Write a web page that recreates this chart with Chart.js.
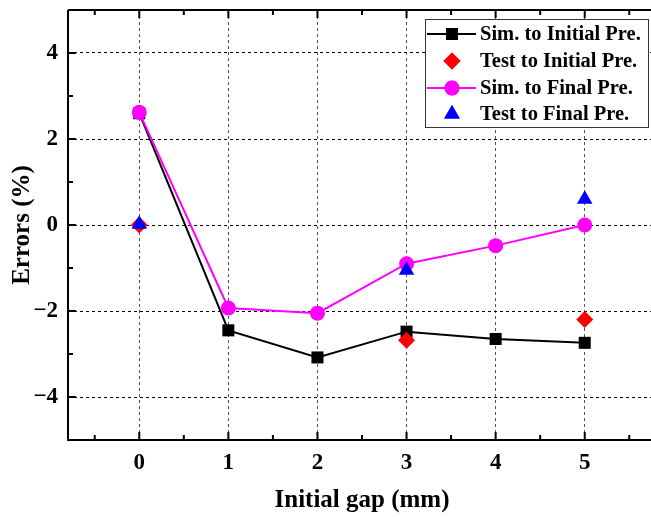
<!DOCTYPE html>
<html>
<head>
<meta charset="utf-8">
<script src="https://cdn.jsdelivr.net/npm/chart.js@4.4.1/dist/chart.umd.min.js"></script>
<style>
  html, body { margin: 0; padding: 0; background: #fff; overflow: hidden; }
</style>
</head>
<body>
<canvas id="myChart" width="665" height="517"></canvas>
<script>
// data
const gaps = [0, 1, 2, 3, 4, 5];
const simInitial = [2.6, -2.45, -3.08, -2.48, -2.65, -2.74];
const testInitialGaps = [0, 3, 5];
const testInitial = [0, -2.68, -2.2];
const simFinal = [2.62, -1.93, -2.05, -0.9, -0.48, 0];
const testFinalGaps = [0, 3, 5];
const testFinal = [0.02, -1.05, 0.6];
const yTicks = [-4, -2, 0, 2, 4];

const FONT = "'Liberation Serif', 'Times New Roman', serif";

function pts(xs, ys) {
  return xs.map((x, i) => ({ x: x, y: ys[i] }));
}

const data = {
  datasets: [
    {
      label: "Sim. to Initial Pre.",
      data: pts(gaps, simInitial),
      borderColor: "#000000",
      backgroundColor: "#000000",
      borderWidth: 2,
      pointStyle: "rect",
      pointRadius: 8.5,
      pointBorderWidth: 0,
      showLine: true,
      order: 3,
    },
    {
      label: "Test to Initial Pre.",
      data: pts(testInitialGaps, testInitial),
      borderColor: "#ff0000",
      backgroundColor: "#ff0000",
      pointStyle: "rectRot",
      pointRadius: 8.5,
      pointBorderWidth: 0,
      showLine: false,
      order: 2,
    },
    {
      label: "Sim. to Final Pre.",
      data: pts(gaps, simFinal),
      borderColor: "#ff00ff",
      backgroundColor: "#ff00ff",
      borderWidth: 2,
      pointStyle: "circle",
      pointRadius: 7.5,
      pointBorderWidth: 0,
      showLine: true,
      order: 1,
    },
    {
      label: "Test to Final Pre.",
      data: pts(testFinalGaps, testFinal),
      borderColor: "#0000ff",
      backgroundColor: "#0000ff",
      pointStyle: "triangle",
      pointRadius: 9,
      pointBorderWidth: 0,
      showLine: false,
      order: 0,
    },
  ],
};

// frame, inward ticks and legend box
const framePlugin = {
  id: "frame",
  afterDatasetsDraw(chart) {
    const ctx = chart.ctx;
    const a = chart.chartArea;
    const xs = chart.scales.x, ys = chart.scales.y;
    ctx.save();
    ctx.strokeStyle = "#000";
    ctx.lineWidth = 2;
    ctx.beginPath();
    ctx.moveTo(a.left, a.top);
    ctx.lineTo(a.right, a.top);
    ctx.moveTo(a.left, a.top);
    ctx.lineTo(a.left, a.bottom);
    ctx.lineTo(a.right, a.bottom);
    ctx.stroke();
    // x ticks
    for (let v = -0.5; v <= 5.5; v += 0.5) {
      const px = xs.getPixelForValue(v);
      const len = Number.isInteger(v) ? 8 : 5;
      ctx.beginPath();
      ctx.moveTo(px, a.bottom);
      ctx.lineTo(px, a.bottom - len);
      ctx.moveTo(px, a.top);
      ctx.lineTo(px, a.top + len);
      ctx.stroke();
    }
    // y ticks
    for (let v = -4; v <= 4; v += 1) {
      const py = ys.getPixelForValue(v);
      const len = v % 2 === 0 ? 8 : 5;
      ctx.beginPath();
      ctx.moveTo(a.left, py);
      ctx.lineTo(a.left + len, py);
      ctx.stroke();
    }

    // legend
    const bx = 425, by = 19, bw = 223, bh = 108;
    ctx.fillStyle = "#fff";
    ctx.fillRect(bx, by, bw, bh);
    ctx.lineWidth = 1;
    ctx.strokeStyle = "#333";
    ctx.strokeRect(bx + 0.5, by + 0.5, bw, bh);
    const rows = [34, 61, 88, 114];
    ctx.font = "bold 20.5px " + FONT;
    ctx.textBaseline = "middle";
    chart.data.datasets.forEach((ds, i) => {
      const y = rows[i];
      if (ds.showLine) {
        ctx.strokeStyle = ds.borderColor;
        ctx.lineWidth = 2;
        ctx.beginPath();
        ctx.moveTo(427, y);
        ctx.lineTo(476, y);
        ctx.stroke();
      }
      ctx.fillStyle = ds.backgroundColor;
      Chart.helpers.drawPoint(ctx, {
        pointStyle: ds.pointStyle,
        radius: ds.pointRadius,
        borderWidth: 0,
        rotation: 0,
      }, 452, y);
      ctx.fill();
      ctx.fillStyle = "#000";
      ctx.textAlign = "left";
      ctx.fillText(ds.label, 480, y + 1);
    });
    ctx.restore();
  },
};

const config = {
  type: "scatter",
  data,
  plugins: [framePlugin],
  options: {
    responsive: false,
    animation: false,
    layout: { padding: { top: 10, right: 4, left: 0, bottom: 0 } },
    plugins: { legend: { display: false }, tooltip: { enabled: false } },
    scales: {
      x: {
        type: "linear",
        min: -0.8,
        max: 5.8,
        afterFit(s) {
          s.height = 77;
          s.paddingLeft = 0;
          s.paddingRight = 0;
        },
        afterBuildTicks(s) { s.ticks = gaps.map(v => ({ value: v })); },
        grid: { color: "#555", lineWidth: 1, drawTicks: false },
        border: { display: false, dash: [3, 3] },
        ticks: {
          padding: 9,
          color: "#000",
          font: { family: FONT, size: 23, weight: "bold" },
        },
        title: {
          display: true,
          text: "Initial gap (mm)",
          color: "#000",
          font: { family: FONT, size: 25, weight: "bold" },
          padding: { top: 0, bottom: 1 },
        },
      },
      y: {
        min: -5,
        max: 5,
        afterFit(s) {
          s.width = 68;
          s.paddingTop = 0;
          s.paddingBottom = 0;
        },
        afterBuildTicks(s) { s.ticks = yTicks.map(v => ({ value: v })); },
        grid: { color: "#000", lineWidth: 1, drawTicks: false },
        border: { display: false, dash: [3, 3] },
        ticks: {
          padding: 10,
          color: "#000",
          font: { family: FONT, size: 23, weight: "bold" },
          callback: v => (v < 0 ? "\u2212" + Math.abs(v) : String(v)),
        },
        title: {
          display: true,
          text: "Errors (%)",
          color: "#000",
          font: { family: FONT, size: 25, weight: "bold" },
          padding: { top: 8, bottom: 0 },
        },
      },
    },
  },
};

const myChart = new Chart(document.getElementById("myChart"), config);
</script>
</body>
</html>
